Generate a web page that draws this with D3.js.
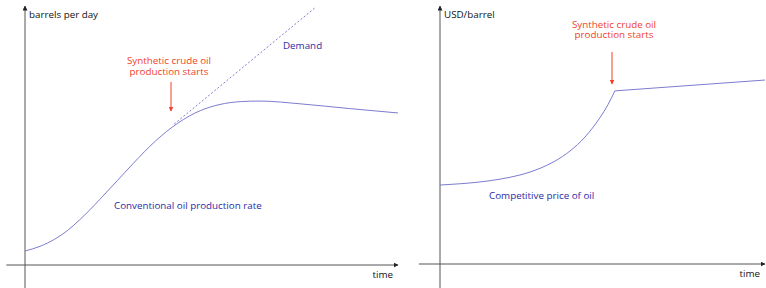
<!DOCTYPE html>
<html>
<head>
<meta charset="utf-8">
<script src="https://cdn.jsdelivr.net/npm/d3@7"></script>
<style>
  body { margin: 0; background: #fff; }
  text { font-family: "Open Sans", "Liberation Sans", sans-serif; font-size: 9.8px; }
</style>
</head>
<body>
<script>
// left panel: conventional production vs demand
var timeL = [0, 4, 8, 11.3, 14.7, 17.4, 20.1, 24.7, 29, 35, 41, 47, 52, 58, 63, 74, 87, 100];
var production = [5.4, 7.2, 10, 13.2, 17.5, 21.3, 25.4, 32.5, 39.2, 47.9, 54.8, 59.6, 61.9, 63.1, 63.3, 62.2, 60.4, 58.7];
var demandTime = [40, 78];
var demand = [54.4, 99.6];

// right panel: competitive price
var timeR = [0, 6.2, 12.3, 18.5, 24.6, 30.8, 35.4, 40, 44.6, 49.2, 51.7, 53.8, 100];
var price = [30.6, 31.1, 31.8, 32.9, 34.5, 37.1, 39.9, 43.8, 49.2, 56.7, 61.8, 67.1, 71.3];
var kinkIndex = 11;

var yTitles = ['barrels per day', 'USD/barrel'];
var xTitle = 'time';
var noteLines = ['Synthetic crude oil', 'production starts'];

var w = 766;
var h = 288;
var axisColor = '#555';
var curveColor = '#7c7cd0';
var labelColor = '#2b2ba6';
var noteColor = '#f2402a';

var svg = d3.select('body')
  .append('svg')
  .attr('width', w)
  .attr('height', h);

var defs = svg.append('defs');
function addMarker(id, color, size) {
  defs.append('marker')
    .attr('id', id)
    .attr('viewBox', '0 0 10 10')
    .attr('refX', 9)
    .attr('refY', 5)
    .attr('markerUnits', 'userSpaceOnUse')
    .attr('markerWidth', size)
    .attr('markerHeight', size)
    .attr('orient', 'auto')
    .append('path')
    .attr('d', 'M0,0L10,5L0,10Z')
    .attr('fill', color);
}
addMarker('axisArrow', '#222', 5);
addMarker('noteArrow', noteColor, 5);

function drawAxes(g, x, y, xStart, yStart, title) {
  g.append('line')
    .attr('x1', x(xStart)).attr('y1', y(0))
    .attr('x2', x(100)).attr('y2', y(0))
    .attr('stroke', axisColor).attr('stroke-width', 1)
    .attr('marker-end', 'url(#axisArrow)');
  g.append('line')
    .attr('x1', x(0)).attr('y1', y(yStart))
    .attr('x2', x(0)).attr('y2', y(100))
    .attr('stroke', axisColor).attr('stroke-width', 1)
    .attr('marker-end', 'url(#axisArrow)');
  g.append('text')
    .attr('x', x(0) + 4).attr('y', y(100) + 11.5)
    .attr('fill', '#111')
    .text(title);
  g.append('text')
    .attr('x', x(100) - 5).attr('y', y(0) + 13)
    .attr('text-anchor', 'end')
    .attr('fill', '#111')
    .text(xTitle);
}

function drawNote(g, cx, top, arrowX, arrowTop, arrowBottom) {
  g.selectAll('text.note')
    .data(noteLines)
    .enter()
    .append('text')
    .attr('class', 'note')
    .attr('x', cx)
    .attr('y', (d, i) => top + i * 10.5)
    .attr('text-anchor', 'middle')
    .attr('fill', noteColor)
    .text(d => d);
  g.append('line')
    .attr('x1', arrowX).attr('y1', arrowTop)
    .attr('x2', arrowX).attr('y2', arrowBottom)
    .attr('stroke', noteColor).attr('stroke-width', 1)
    .attr('marker-end', 'url(#noteArrow)');
}

// ---- left panel ----
var xL = d3.scaleLinear().domain([0, 100]).range([25, 398]);
var yL = d3.scaleLinear().domain([0, 100]).range([265, 6]);
var left = svg.append('g');

drawAxes(left, xL, yL, -5, -9, yTitles[0]);

var lineL = d3.line()
  .x(d => xL(d[0]))
  .y(d => yL(d[1]))
  .curve(d3.curveMonotoneX);

left.append('path')
  .attr('d', lineL(d3.zip(timeL, production)))
  .attr('fill', 'none')
  .attr('stroke', curveColor)
  .attr('stroke-width', 1);

left.append('path')
  .attr('d', d3.line().x(d => xL(d[0])).y(d => yL(d[1]))(d3.zip(demandTime, demand)))
  .attr('fill', 'none')
  .attr('stroke', curveColor)
  .attr('stroke-width', 1)
  .attr('stroke-dasharray', '2,2');

left.append('text')
  .attr('x', 283).attr('y', 48.5)
  .attr('fill', labelColor)
  .text('Demand');

left.append('text')
  .attr('x', 114).attr('y', 209)
  .attr('fill', labelColor)
  .text('Conventional oil production rate');

drawNote(left, 169, 64, 171, 82, 111);

// ---- right panel ----
var xR = d3.scaleLinear().domain([0, 100]).range([440, 765]);
var yR = d3.scaleLinear().domain([0, 100]).range([264, 6]);
var right = svg.append('g');

drawAxes(right, xR, yR, -6.5, -9.3, yTitles[1]);

var pricePts = d3.zip(timeR, price);
var lineR = d3.line()
  .x(d => xR(d[0]))
  .y(d => yR(d[1]))
  .curve(d3.curveMonotoneX);

right.append('path')
  .attr('d', lineR(pricePts.slice(0, kinkIndex + 1)))
  .attr('fill', 'none')
  .attr('stroke', curveColor)
  .attr('stroke-width', 1);

right.append('path')
  .attr('d', d3.line().x(d => xR(d[0])).y(d => yR(d[1]))(pricePts.slice(kinkIndex)))
  .attr('fill', 'none')
  .attr('stroke', curveColor)
  .attr('stroke-width', 1);

right.append('text')
  .attr('x', 489).attr('y', 198.5)
  .attr('fill', labelColor)
  .text('Competitive price of oil');

drawNote(right, 614, 27.5, 612, 52, 84);
</script>
</body>
</html>
